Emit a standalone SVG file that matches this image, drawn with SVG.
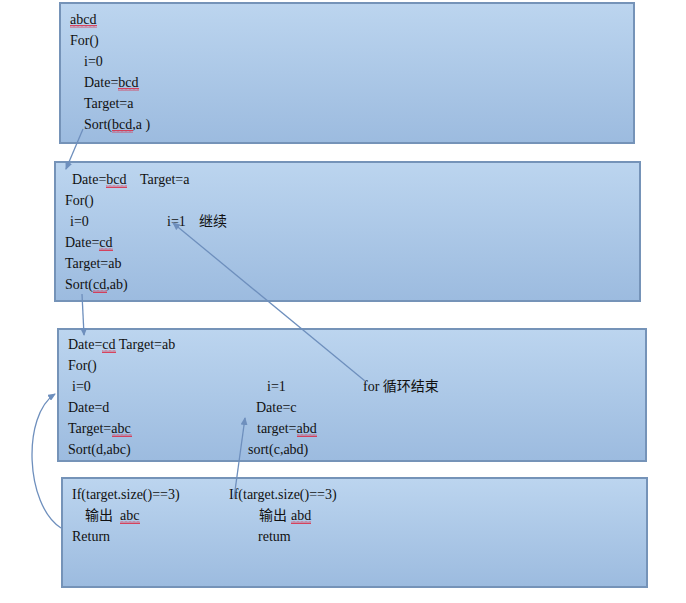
<svg xmlns="http://www.w3.org/2000/svg" width="686" height="603" viewBox="0 0 686 603">
<defs>
<linearGradient id="bg" x1="0" y1="0" x2="0" y2="1">
<stop offset="0" stop-color="#bcd5ef"/>
<stop offset="1" stop-color="#9cbbdf"/>
</linearGradient>
<pattern id="sq" width="4" height="3" patternUnits="userSpaceOnUse">
<path d="M0,2.5 L1,0.5 L2,2.5 L3,0.5 L4,2.5" fill="none" stroke="#e0203a" stroke-width="0.8"/>
</pattern>
<marker id="ah" markerWidth="8" markerHeight="7" refX="7" refY="3.5" orient="auto" markerUnits="userSpaceOnUse">
<path d="M0,0 L8,3.5 L0,7 Z" fill="#6e8fbd"/>
</marker>
</defs>
<style>
.box{fill:url(#bg);stroke:#7593b8;stroke-width:2}
.t{font-family:"Liberation Serif","Noto Sans CJK SC",serif;font-size:14px;fill:#111}
.c{font-family:"Noto Sans CJK SC",sans-serif;font-size:14px;fill:#111}
.sq{fill:url(#sq)}
.con{fill:none;stroke:#6e8fbd;stroke-width:1.3;marker-end:url(#ah)}
</style>
<rect width="686" height="603" fill="#ffffff"/>

<g id="node1">
<rect class="box" x="60" y="3" width="574" height="140"/>
<text class="t" x="70" y="24">abcd</text>
<text class="t" x="70" y="45">For()</text>
<text class="t" x="84" y="66">i=0</text>
<text class="t" x="84" y="87">Date=bcd</text>
<text class="t" x="84" y="108">Target=a</text>
<text class="t" x="84" y="129">Sort(bcd,a )</text>
<rect class="sq" x="70" y="25" width="27" height="3"/>
<rect class="sq" x="118" y="88" width="21" height="3"/>
<rect class="sq" x="112" y="130" width="21" height="3"/>
</g>

<g id="node2">
<rect class="box" x="55" y="162" width="585" height="139"/>
<text class="t" x="72" y="184">Date=bcd</text>
<text class="t" x="140" y="184">Target=a</text>
<text class="t" x="65" y="205">For()</text>
<text class="t" x="70" y="226">i=0</text>
<text class="t" x="167" y="226">i=1</text>
<text class="c" x="199" y="226">继续</text>
<text class="t" x="65" y="247">Date=cd</text>
<text class="t" x="65" y="268">Target=ab</text>
<text class="t" x="65" y="289">Sort(cd,ab)</text>
<rect class="sq" x="106" y="185" width="21" height="3"/>
<rect class="sq" x="99" y="248" width="14" height="3"/>
<rect class="sq" x="93" y="290" width="14" height="3"/>
</g>

<g id="node3">
<rect class="box" x="58" y="329" width="588" height="132"/>
<text class="t" x="68" y="349">Date=cd Target=ab</text>
<text class="t" x="68" y="370">For()</text>
<text class="t" x="72" y="391">i=0</text>
<text class="t" x="267" y="391">i=1</text>
<text class="t" x="363" y="391">for <tspan class="c">循环结束</tspan></text>
<text class="t" x="68" y="412">Date=d</text>
<text class="t" x="256" y="412">Date=c</text>
<text class="t" x="68" y="433">Target=abc</text>
<text class="t" x="257" y="433">target=abd</text>
<text class="t" x="68" y="454">Sort(d,abc)</text>
<text class="t" x="248" y="454">sort(c,abd)</text>
<rect class="sq" x="102" y="350" width="14" height="3"/>
<rect class="sq" x="112" y="434" width="20" height="3"/>
<rect class="sq" x="297" y="434" width="20" height="3"/>
</g>

<g id="node4">
<rect class="box" x="62" y="478" width="585" height="109"/>
<text class="t" x="72" y="499">If(target.size()==3)</text>
<text class="t" x="229" y="499">If(target.size()==3)</text>
<text class="c" x="85" y="520">输出</text>
<text class="t" x="120" y="520">abc</text>
<text class="c" x="259" y="520">输出</text>
<text class="t" x="291" y="520">abd</text>
<text class="t" x="72" y="541">Return</text>
<text class="t" x="258" y="541">retum</text>
<rect class="sq" x="120" y="521" width="20" height="3"/>
<rect class="sq" x="291" y="521" width="20" height="3"/>
</g>

<g id="connectors">
<path class="con" d="M83,129 L66,169"/>
<path class="con" d="M82,294 L84,335"/>
<path class="con" d="M365,381 L173,223"/>
<path class="con" d="M234,498 L245,418"/>
<path class="con" d="M61,528 C25,505 22,415 55,394"/>
</g>
</svg>
